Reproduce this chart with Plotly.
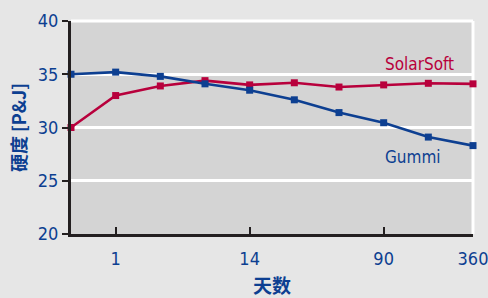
import plotly.graph_objects as go

days = ["0", "1", "3", "7", "14", "28", "56", "90", "180", "360"]
gummi = [35.0, 35.2, 34.8, 34.1, 33.5, 32.6, 31.4, 30.45, 29.1, 28.3]
solarsoft = [30.0, 33.0, 33.9, 34.4, 34.0, 34.2, 33.8, 34.0, 34.15, 34.1]
tick_days = ["1", "14", "90", "360"]

BLUE = "#0d3f91"
RED = "#b8003c"
FONT = "Liberation Sans Narrow, DejaVu Sans Condensed, Arial Narrow, sans-serif"
CJK = "Noto Sans CJK SC, sans-serif"
xpos = list(range(len(days)))
tickpos = [days.index(d) for d in tick_days]

fig = go.Figure()
fig.add_trace(go.Scatter(x=xpos, y=solarsoft, mode="lines+markers", name="SolarSoft",
                         line=dict(color=RED, width=2.6),
                         marker=dict(symbol="square", size=7, color=RED),
                         cliponaxis=False))
fig.add_trace(go.Scatter(x=xpos, y=gummi, mode="lines+markers", name="Gummi",
                         line=dict(color=BLUE, width=2.6),
                         marker=dict(symbol="square", size=7, color=BLUE),
                         cliponaxis=False))

fig.add_annotation(x=7.8, y=36.0, text="SolarSoft", showarrow=False,
                   font=dict(color=RED, size=17, family=FONT),
                   xanchor="center", yanchor="middle")
fig.add_annotation(x=7.65, y=27.2, text="Gummi", showarrow=False,
                   font=dict(color=BLUE, size=17, family=FONT),
                   xanchor="center", yanchor="middle")

# white border on top and right of plot area
fig.add_shape(type="line", xref="paper", yref="paper", x0=0, x1=1, y0=1, y1=1,
              line=dict(color="white", width=3), layer="below")
fig.add_shape(type="line", xref="paper", yref="paper", x0=1, x1=1, y0=0, y1=1,
              line=dict(color="white", width=3), layer="below")

fig.update_layout(
    width=488, height=298,
    margin=dict(l=71, r=15, t=21, b=64),
    paper_bgcolor="#e6e6e6",
    plot_bgcolor="#d4d4d4",
    showlegend=False,
    font=dict(family=FONT, color=BLUE, size=17),
    xaxis=dict(
        range=[0, 9], tickmode="array", tickvals=tickpos, ticktext=tick_days,
        showgrid=False, zeroline=False, automargin=False,
        showline=True, linecolor="#231f20", linewidth=3,
        ticks="inside", ticklen=7, tickwidth=2, tickcolor="#231f20",
        ticklabelstandoff=6, ticklabeloverflow="allow",
        tickfont=dict(size=18, color=BLUE, family=FONT),
        title=dict(text="<b>天数</b>", font=dict(size=19, color=BLUE, family=CJK),
                   standoff=15),
    ),
    yaxis=dict(
        range=[20, 40], tickvals=[20, 25, 30, 35, 40],
        showgrid=True, gridcolor="white", gridwidth=3, zeroline=False, automargin=False,
        showline=True, linecolor="#231f20", linewidth=3,
        ticks="outside", ticklen=6, tickwidth=2, tickcolor="#231f20",
        ticklabeloverflow="allow",
        tickfont=dict(size=18, color=BLUE, family=FONT),
        title=dict(text="<b>硬度 [P&J]</b>", font=dict(size=18, color=BLUE, family=CJK),
                   standoff=7),
    ),
)

fig.write_html("out.html", config={"displayModeBar": False},
               post_script="document.body.style.margin='0';document.body.style.background='#e6e6e6';")
